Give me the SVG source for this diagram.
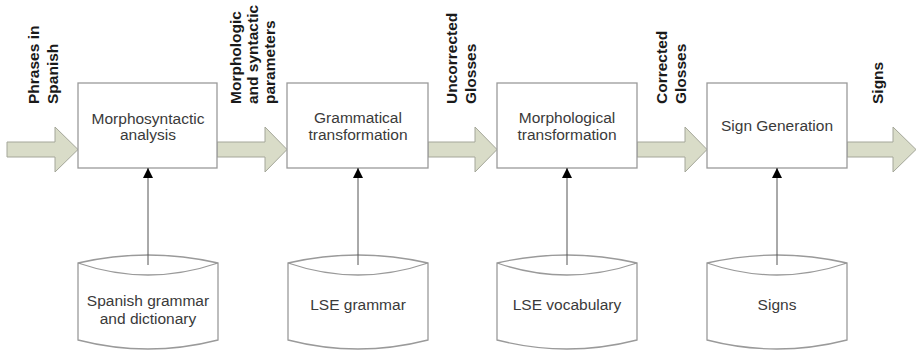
<svg xmlns="http://www.w3.org/2000/svg" width="916" height="351" viewBox="0 0 916 351">
<defs>
<style>
.box{fill:#fff;stroke:#9a9a9a;stroke-width:1.3}
.cyl{fill:#fff;stroke:#9a9a9a;stroke-width:1.3}
.fat{fill:#d9dcc8;stroke:#a4a699;stroke-width:1}
.lbl{font-family:"Liberation Sans",Arial,sans-serif;font-size:15.5px;fill:#3a3a3a;text-anchor:middle}
.rot{font-family:"Liberation Sans",Arial,sans-serif;font-size:15.5px;font-weight:bold;fill:#1a1a1a}
.link{stroke:#555;stroke-width:1;fill:none;marker-end:url(#tri)}
</style>
<marker id="tri" viewBox="0 0 10 10" refX="10" refY="5" markerWidth="10" markerHeight="10" markerUnits="userSpaceOnUse" orient="auto">
<path d="M0,0 L10,5 L0,10 Z" fill="#000"/>
</marker>
</defs>

<g id="flow-arrows">
<polygon class="fat" points="7,142 55,142 55,127 78,149.5 55,172 55,157 7,157"/>
<polygon class="fat" points="217,142 265,142 265,127 287,149.5 265,172 265,157 217,157"/>
<polygon class="fat" points="428,142 475,142 475,127 497,149.5 475,172 475,157 428,157"/>
<polygon class="fat" points="637,142 685,142 685,127 707,149.5 685,172 685,157 637,157"/>
<polygon class="fat" points="847,142 893,142 893,127 916,149.5 893,172 893,157 847,157"/>
</g>

<g id="flow-labels">
<text class="rot" transform="translate(39,104) rotate(-90)">Phrases in</text>
<text class="rot" transform="translate(57.5,104) rotate(-90)">Spanish</text>
<text class="rot" transform="translate(241,104) rotate(-90)">Morphologic</text>
<text class="rot" transform="translate(258,104) rotate(-90)">and syntactic</text>
<text class="rot" transform="translate(275,104) rotate(-90)">parameters</text>
<text class="rot" transform="translate(457,104) rotate(-90)">Uncorrected</text>
<text class="rot" transform="translate(476,104) rotate(-90)">Glosses</text>
<text class="rot" transform="translate(667,104) rotate(-90)">Corrected</text>
<text class="rot" transform="translate(686,104) rotate(-90)">Glosses</text>
<text class="rot" transform="translate(883,104) rotate(-90)">Signs</text>
</g>

<g id="morphosyntactic-analysis">
<rect class="box" x="78" y="83" width="139" height="85"/>
<text class="lbl" x="148" y="124">Morphosyntactic</text>
<text class="lbl" x="148" y="140">analysis</text>
</g>
<g id="grammatical-transformation">
<rect class="box" x="287" y="83" width="141" height="85"/>
<text class="lbl" x="358" y="123">Grammatical</text>
<text class="lbl" x="358" y="140">transformation</text>
</g>
<g id="morphological-transformation">
<rect class="box" x="497" y="83" width="140" height="85"/>
<text class="lbl" x="567" y="123">Morphological</text>
<text class="lbl" x="567" y="140">transformation</text>
</g>
<g id="sign-generation">
<rect class="box" x="707" y="83" width="140" height="85"/>
<text class="lbl" x="777" y="131">Sign Generation</text>
</g>

<g id="db-spanish">
<path class="cyl" d="M78,263 Q148,247 218,263 L218,340 Q148,358 78,340 Z M78,263 Q148,287 218,263"/>
<text class="lbl" x="148" y="306">Spanish grammar</text>
<text class="lbl" x="148" y="324">and dictionary</text>
</g>
<g id="db-lse-grammar">
<path class="cyl" d="M288,263 Q358,247 428,263 L428,340 Q358,358 288,340 Z M288,263 Q358,287 428,263"/>
<text class="lbl" x="358" y="310">LSE grammar</text>
</g>
<g id="db-lse-vocabulary">
<path class="cyl" d="M497,263 Q567,247 637,263 L637,340 Q567,358 497,340 Z M497,263 Q567,287 637,263"/>
<text class="lbl" x="567" y="310">LSE vocabulary</text>
</g>
<g id="db-signs">
<path class="cyl" d="M707,263 Q777,247 847,263 L847,340 Q777,358 707,340 Z M707,263 Q777,287 847,263"/>
<text class="lbl" x="777" y="310">Signs</text>
</g>

<g id="connectors">
<line class="link" x1="148" y1="265" x2="148" y2="168"/>
<line class="link" x1="358" y1="265" x2="358" y2="168"/>
<line class="link" x1="567" y1="265" x2="567" y2="168"/>
<line class="link" x1="777" y1="265" x2="777" y2="168"/>
</g>
</svg>
